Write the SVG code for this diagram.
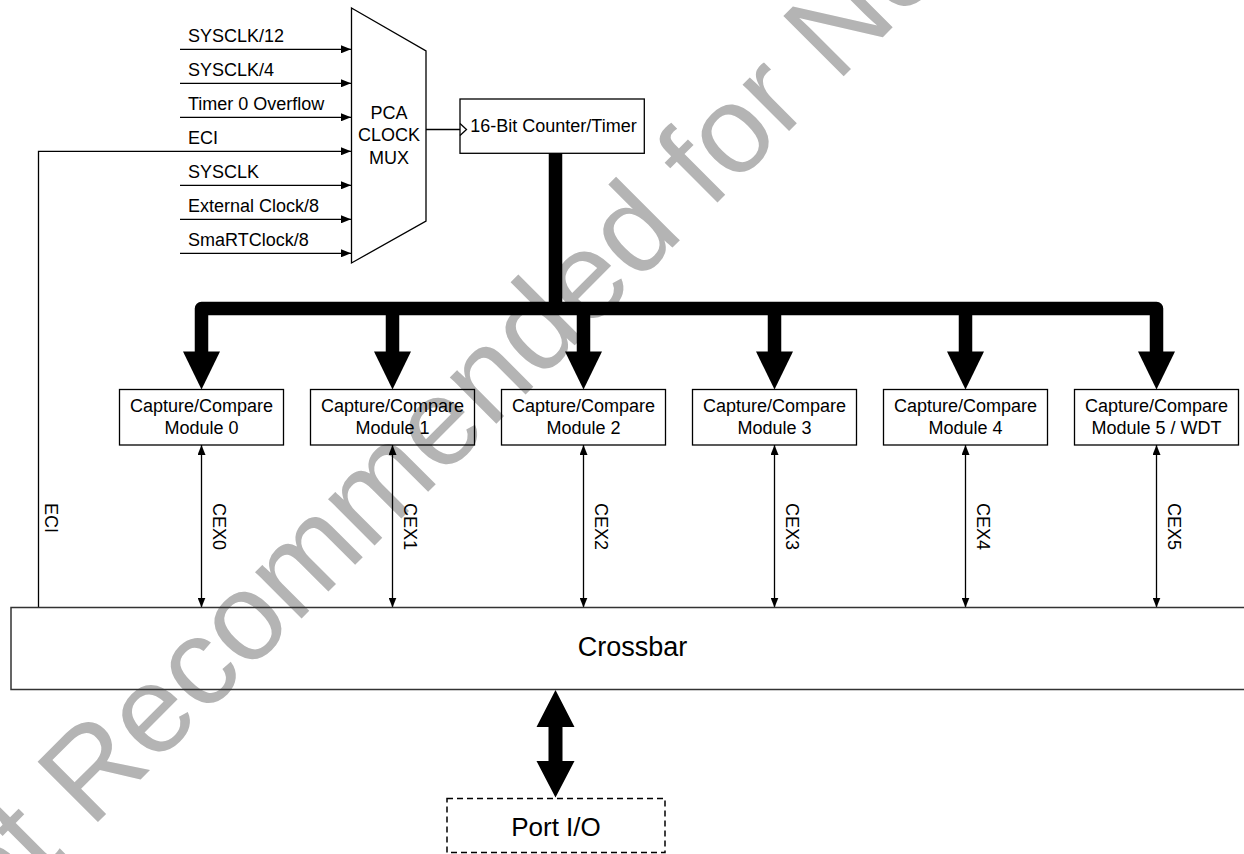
<svg xmlns="http://www.w3.org/2000/svg" width="1244" height="854" viewBox="0 0 1244 854">
<style>
text{font-family:"Liberation Sans",Arial,sans-serif;fill:#000}
.t18{font-size:18px}
.mid{text-anchor:middle}
.box{fill:none;stroke:#000;stroke-width:1.3}
.ln{fill:none;stroke:#000;stroke-width:1.3}
.bus{fill:none;stroke:#000;stroke-width:13.5;stroke-linejoin:round}
.head{fill:#000}
.wm{font-size:124px;fill:#b4b4b4}
</style>
<defs>
<marker id="ah" viewBox="0 0 10 8" refX="10" refY="4" markerWidth="10" markerHeight="8" markerUnits="userSpaceOnUse" orient="auto-start-reverse">
<path d="M0,0 L10,4 L0,8 z" fill="#000"/>
</marker>
</defs>
<rect width="1244" height="854" fill="#fff"/>
<text class="wm" transform="translate(-70,990) rotate(-45)">Not Recommended for New Designs</text>

<g id="connectors">
<line class="ln" x1="180" y1="49.3" x2="351" y2="49.3" marker-end="url(#ah)"/>
<line class="ln" x1="180" y1="83.3" x2="351" y2="83.3" marker-end="url(#ah)"/>
<line class="ln" x1="180" y1="117.3" x2="351" y2="117.3" marker-end="url(#ah)"/>
<path class="ln" d="M38.5,608 V151.3 H351" marker-end="url(#ah)"/>
<line class="ln" x1="180" y1="185.3" x2="351" y2="185.3" marker-end="url(#ah)"/>
<line class="ln" x1="180" y1="219.3" x2="351" y2="219.3" marker-end="url(#ah)"/>
<line class="ln" x1="180" y1="253.3" x2="351" y2="253.3" marker-end="url(#ah)"/>
<line class="ln" x1="426" y1="129.5" x2="460" y2="129.5"/>
<polyline class="ln" points="460,123.5 466.5,129.5 460,135.5"/>
<path class="bus" d="M555.5,153 V308.5"/>
<path class="bus" d="M201.5,353 V308.5 H1156.5 V353"/>
<path class="bus" d="M392.5,308.5 V353 M583.5,308.5 V353 M774.5,308.5 V353 M965.5,308.5 V353"/>
<polygon class="head" points="183,351.5 220,351.5 201.5,389.5"/>
<polygon class="head" points="374,351.5 411,351.5 392.5,389.5"/>
<polygon class="head" points="565,351.5 602,351.5 583.5,389.5"/>
<polygon class="head" points="756,351.5 793,351.5 774.5,389.5"/>
<polygon class="head" points="947,351.5 984,351.5 965.5,389.5"/>
<polygon class="head" points="1138,351.5 1175,351.5 1156.5,389.5"/>
<line class="ln" x1="201.5" y1="445" x2="201.5" y2="607.5" marker-start="url(#ah)" marker-end="url(#ah)"/>
<line class="ln" x1="392.5" y1="445" x2="392.5" y2="607.5" marker-start="url(#ah)" marker-end="url(#ah)"/>
<line class="ln" x1="583.5" y1="445" x2="583.5" y2="607.5" marker-start="url(#ah)" marker-end="url(#ah)"/>
<line class="ln" x1="774.5" y1="445" x2="774.5" y2="607.5" marker-start="url(#ah)" marker-end="url(#ah)"/>
<line class="ln" x1="965.5" y1="445" x2="965.5" y2="607.5" marker-start="url(#ah)" marker-end="url(#ah)"/>
<line class="ln" x1="1156.5" y1="445" x2="1156.5" y2="607.5" marker-start="url(#ah)" marker-end="url(#ah)"/>
<polygon class="head" points="555.5,690 574.5,727 562.5,727 562.5,761 574.5,761 555.5,797.5 536.5,761 548.5,761 548.5,727 536.5,727"/>
</g>

<g id="input-labels" class="t18">
<text x="188" y="42">SYSCLK/12</text>
<text x="188" y="76">SYSCLK/4</text>
<text x="188" y="110">Timer 0 Overflow</text>
<text x="188" y="144">ECI</text>
<text x="188" y="178">SYSCLK</text>
<text x="188" y="212">External Clock/8</text>
<text x="188" y="246">SmaRTClock/8</text>
</g>

<g id="signal-labels" class="t18">
<text transform="translate(45,503) rotate(90)">ECI</text>
<text transform="translate(212.5,503) rotate(90)">CEX0</text>
<text transform="translate(403.5,503) rotate(90)">CEX1</text>
<text transform="translate(594.5,503) rotate(90)">CEX2</text>
<text transform="translate(785.5,503) rotate(90)">CEX3</text>
<text transform="translate(976.5,503) rotate(90)">CEX4</text>
<text transform="translate(1167.5,503) rotate(90)">CEX5</text>
</g>

<g id="mux">
<polygon class="box" points="351.5,8 426,51 426,221 351.5,263"/>
<text class="t18 mid" x="389" y="118.5">PCA</text>
<text class="t18 mid" x="389" y="141">CLOCK</text>
<text class="t18 mid" x="389" y="163.5">MUX</text>
</g>

<g id="counter">
<rect class="box" x="460" y="99" width="184.3" height="54.3"/>
<text class="t18 mid" x="553.5" y="132">16-Bit Counter/Timer</text>
</g>

<g id="module0">
<rect class="box" x="119.5" y="389.5" width="164" height="55.5"/>
<text class="t18 mid" x="201.5" y="411.5">Capture/Compare</text>
<text class="t18 mid" x="201.5" y="434">Module 0</text>
</g>
<g id="module1">
<rect class="box" x="310.5" y="389.5" width="164" height="55.5"/>
<text class="t18 mid" x="392.5" y="411.5">Capture/Compare</text>
<text class="t18 mid" x="392.5" y="434">Module 1</text>
</g>
<g id="module2">
<rect class="box" x="501.5" y="389.5" width="164" height="55.5"/>
<text class="t18 mid" x="583.5" y="411.5">Capture/Compare</text>
<text class="t18 mid" x="583.5" y="434">Module 2</text>
</g>
<g id="module3">
<rect class="box" x="692.5" y="389.5" width="164" height="55.5"/>
<text class="t18 mid" x="774.5" y="411.5">Capture/Compare</text>
<text class="t18 mid" x="774.5" y="434">Module 3</text>
</g>
<g id="module4">
<rect class="box" x="883.5" y="389.5" width="164" height="55.5"/>
<text class="t18 mid" x="965.5" y="411.5">Capture/Compare</text>
<text class="t18 mid" x="965.5" y="434">Module 4</text>
</g>
<g id="module5">
<rect class="box" x="1074.5" y="389.5" width="164" height="55.5"/>
<text class="t18 mid" x="1156.5" y="411.5">Capture/Compare</text>
<text class="t18 mid" x="1156.5" y="434">Module 5 / WDT</text>
</g>

<g id="crossbar">
<rect x="11" y="607.5" width="1260" height="82" fill="none" stroke="#333" stroke-width="1.5"/>
<text class="mid" x="632.5" y="656" style="font-size:27px">Crossbar</text>
</g>

<g id="port-io">
<rect x="447" y="798.5" width="218" height="54" fill="none" stroke="#000" stroke-width="1.5" stroke-dasharray="6,4"/>
<text class="mid" x="556" y="835.5" style="font-size:26px">Port I/O</text>
</g>
</svg>
